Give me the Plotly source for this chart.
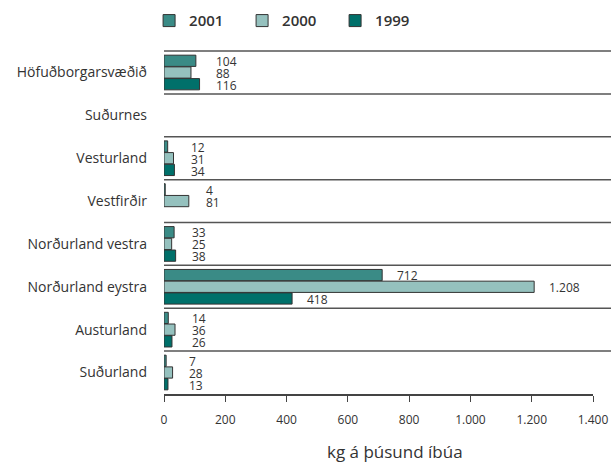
import plotly.graph_objects as go

regioner = ["Höfuðborgarsvæðið", "Suðurnes", "Vesturland", "Vestfirðir",
            "Norðurland vestra", "Norðurland eystra", "Austurland", "Suðurland"]
ar = ["2001", "2000", "1999"]
gildi_2001 = [104, None, 12, 4, 33, 712, 14, 7]
gildi_2000 = [88, None, 31, 81, 25, 1208, 36, 28]
gildi_1999 = [116, None, 34, None, 38, 418, 26, 13]
x_ticks = [0, 200, 400, 600, 800, 1000, 1200, 1400]

litir = {"2001": "#3a8b86", "2000": "#95c1be", "1999": "#00706a"}
radir = {"2001": gildi_2001, "2000": gildi_2000, "1999": gildi_1999}
yshift = {"2001": 12, "2000": 0, "1999": -12}


def snid(v):
    return f"{v:,}".replace(",", ".")


fig = go.Figure()
for a in ar:
    fig.add_trace(go.Bar(
        y=regioner, x=radir[a], name=a, orientation="h",
        marker=dict(color=litir[a], line=dict(color="#333333", width=1)),
    ))

# gildismerki: litlir hópar í dálki, stórir við enda súlu
annotations = []
for i, r in enumerate(regioner):
    vals = [radir[a][i] for a in ar if radir[a][i] is not None]
    if not vals:
        continue
    hopmax = max(vals)
    for a in ar:
        v = radir[a][i]
        if v is None:
            continue
        xpos = v + 42 if hopmax > 500 else hopmax + 48
        annotations.append(dict(
            x=xpos, y=r, xref="x", yref="y", text=snid(v), showarrow=False,
            xanchor="left", yanchor="middle", yshift=yshift[a] - 1,
            font=dict(size=12, color="#333333")))

annotations.append(dict(
    x=0.538, y=-0.168, xref="paper", yref="paper", text="kg á þúsund íbúa",
    showarrow=False, font=dict(size=17, color="#333333"), yanchor="middle"))

shapes = []
for i in range(len(regioner)):
    shapes.append(dict(type="line", xref="paper", yref="y",
                       x0=0, x1=1.05, y0=i - 0.5, y1=i - 0.5,
                       line=dict(color="#555555", width=1.5)))

fig.update_layout(
    width=611, height=463,
    barmode="group", bargap=0.18, bargroupgap=0.04,
    separators=",.",
    paper_bgcolor="white", plot_bgcolor="white",
    font=dict(family="Open Sans", color="#333333"),
    margin=dict(l=164, r=18, t=49, b=69, autoexpand=False),
    legend=dict(orientation="h", xref="container", yref="container",
                x=0.244, y=0.955, xanchor="left", yanchor="middle",
                font=dict(size=15, color="#333333", weight=600),
                entrywidth=48, traceorder="normal"),
    xaxis=dict(range=[0, 1400], tickvals=x_ticks, separatethousands=True,
               automargin=False,
               showgrid=False, zeroline=False, showline=True,
               linecolor="#444444", linewidth=1.5,
               ticks="outside", ticklen=6, tickcolor="#444444",
               tickfont=dict(size=12, color="#333333"), ticklabelstandoff=8),
    yaxis=dict(autorange="reversed", showgrid=False, ticks="", automargin=False,
               tickfont=dict(size=14, color="#333333"), ticklabelstandoff=16),
    annotations=annotations,
    shapes=shapes,
)

# fjarlægja sjálfgefna 8px spássíu síðunnar svo myndin fylli gluggann
fig.write_html("out.html",
               config={"displayModeBar": False},
               post_script="document.body.style.margin='0';"
                           "document.body.style.overflow='hidden';")
